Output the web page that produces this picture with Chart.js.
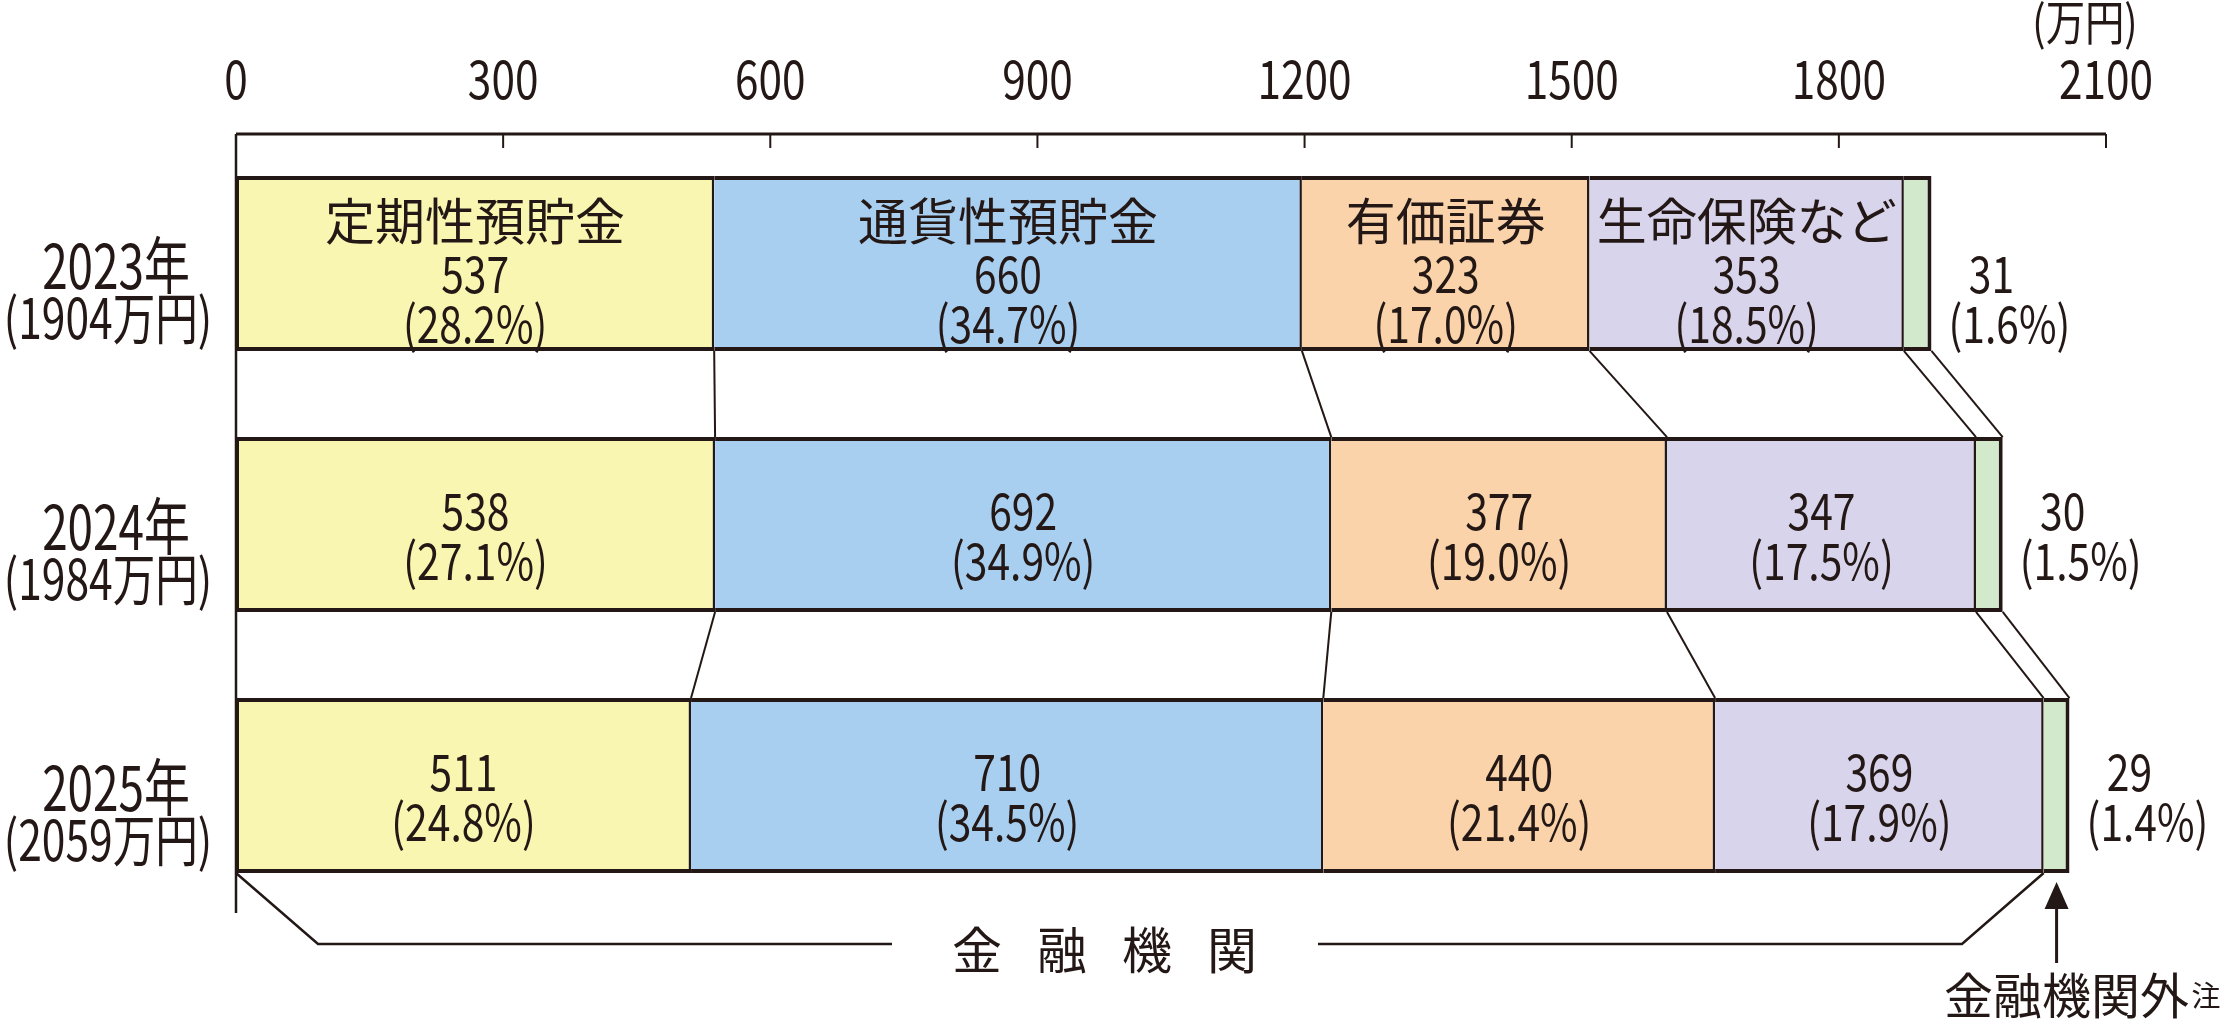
<!DOCTYPE html>
<html>
<head>
<meta charset="utf-8">
<script src="https://cdn.jsdelivr.net/npm/chart.js@4.4.1/dist/chart.umd.min.js"></script>
<style>
  body { margin: 0; background: #fff; }
  canvas { display: block; }
</style>
</head>
<body>
<canvas id="myChart" width="2229" height="1019"></canvas>
<script>
// data (万円)
var years = ['2023年', '2024年', '2025年'];
var totals = ['(1904万円)', '(1984万円)', '(2059万円)'];
var seriesNames = ['定期性預貯金', '通貨性預貯金', '有価証券', '生命保険など', '金融機関外'];
var teiki = [537, 538, 511];
var tsuka = [660, 692, 710];
var yuka = [323, 377, 440];
var seimei = [353, 347, 369];
var gai = [31, 30, 29];
var teikiPct = ['28.2', '27.1', '24.8'];
var tsukaPct = ['34.7', '34.9', '34.5'];
var yukaPct = ['17.0', '19.0', '21.4'];
var seimeiPct = ['18.5', '17.5', '17.9'];
var gaiPct = ['1.6', '1.5', '1.4'];
var xTicks = [0, 300, 600, 900, 1200, 1500, 1800, 2100];

var series = [teiki, tsuka, yuka, seimei, gai];
var pcts = [teikiPct, tsukaPct, yukaPct, seimeiPct, gaiPct];
var colors = ['#f8f6b0', '#a8cff0', '#fad3aa', '#d8d4eb', '#d2e9cc'];
var ink = '#231815';
var FONT = '"Noto Sans CJK JP", "Noto Sans", sans-serif';

function txt(ctx, s, x, y, size, sx, align) {
    ctx.save();
    ctx.font = size + 'px ' + FONT;
    ctx.fillStyle = ink;
    ctx.textAlign = align || 'center';
    ctx.textBaseline = 'middle';
    ctx.translate(x, y);
    ctx.scale(sx, 1);
    ctx.fillText(s, 0, 0);
    ctx.restore();
}

function line(ctx, pts, w) {
    ctx.beginPath();
    ctx.moveTo(pts[0][0], pts[0][1]);
    for (var i = 1; i < pts.length; i++) ctx.lineTo(pts[i][0], pts[i][1]);
    ctx.lineWidth = w;
    ctx.strokeStyle = ink;
    ctx.stroke();
}

var decor = {
    id: 'decor',
    afterDraw: function (chart) {
        var ctx = chart.ctx;
        var xs = chart.scales.x;
        var area = chart.chartArea;
        var axisY = 134;
        var metas = series.map(function (s, k) { return chart.getDatasetMeta(k); });

        // top axis with inward ticks
        line(ctx, [[area.left, axisY], [area.right, axisY]], 3);
        xTicks.forEach(function (v) {
            var px = xs.getPixelForValue(v);
            if (v > 0) line(ctx, [[px, axisY], [px, axisY + 14]], 2);
            txt(ctx, String(v), px, 79, 53, 0.8);
        });
        txt(ctx, '(万円)', 2085, 22, 48, 0.82);

        var bar0 = metas[0].data;
        var barBottom = function (i) { return bar0[i].y + bar0[i].height / 2; };
        var barTop = function (i) { return bar0[i].y - bar0[i].height / 2; };

        // left vertical line
        line(ctx, [[area.left, axisY], [area.left, 913]], 2.5);

        // connectors between years
        for (var i = 0; i < years.length - 1; i++) {
            for (var k = 0; k < series.length; k++) {
                var a = metas[k].data[i].x, b = metas[k].data[i + 1].x;
                line(ctx, [[a, barBottom(i)], [b, barTop(i + 1)]], 2);
            }
        }

        // labels inside bars
        years.forEach(function (yr, i) {
            var cy = bar0[i].y;
            var vOff = i === 0 ? 10 : -14;
            var pOff = i === 0 ? 60 : 36;
            txt(ctx, yr, 116, cy + 2, 62, 0.74);
            txt(ctx, totals[i], 108, cy + 54, 56, 0.76);
            for (var k = 0; k < series.length; k++) {
                var el = metas[k].data[i];
                var cx = (el.x + el.base) / 2;
                if (k === series.length - 1) {
                    txt(ctx, String(series[k][i]), el.x + 60, cy + vOff, 51, 0.8);
                    txt(ctx, '(' + pcts[k][i] + '%)', el.x + 78, cy + pOff, 51, 0.8);
                    continue;
                }
                if (i === 0) txt(ctx, seriesNames[k], cx, cy - 43, 50, 1);
                txt(ctx, String(series[k][i]), cx, cy + vOff, 51, 0.8);
                txt(ctx, '(' + pcts[k][i] + '%)', cx, cy + pOff, 51, 0.8);
            }
        });

        // bracket for 金融機関
        var last = years.length - 1;
        var yb = barBottom(last);
        var rightEnd = metas[3].data[last].x;
        line(ctx, [[area.left, yb], [318, 944], [892, 944]], 2.5);
        line(ctx, [[1318, 944], [1962, 944], [rightEnd, yb]], 2.5);
        var chars = ['金', '融', '機', '関'];
        chars.forEach(function (c, j) { txt(ctx, c, 977 + j * 85, 950, 50, 1); });

        // arrow to 金融機関外
        var g = metas[4].data[last];
        var ax = (g.x + g.base) / 2;
        line(ctx, [[ax, yb + 30], [ax, 963]], 3);
        ctx.beginPath();
        ctx.moveTo(ax, yb + 9);
        ctx.lineTo(ax - 12, yb + 36);
        ctx.lineTo(ax + 12, yb + 36);
        ctx.closePath();
        ctx.fillStyle = ink;
        ctx.fill();
        txt(ctx, '金融機関外', ax + 10, 995, 49, 1);
        txt(ctx, '注', 2206, 996, 29, 1);
    }
};

var ctx = document.getElementById('myChart').getContext('2d');
var chart = new Chart(ctx, {
    type: 'bar',
    data: {
        labels: years,
        datasets: seriesNames.map(function (n, k) {
            return {
                label: n,
                data: series[k],
                backgroundColor: colors[k],
                borderColor: ink,
                borderSkipped: false,
                borderWidth: { left: k === 0 ? 3 : 0, right: k === series.length - 1 ? 4 : 2.5, top: 4, bottom: 4 },
                barPercentage: 0.67,
                categoryPercentage: 1
            };
        })
    },
    options: {
        indexAxis: 'y',
        responsive: false,
        animation: false,
        devicePixelRatio: 1,
        layout: { padding: { left: 236, right: 123, top: 133, bottom: 103 } },
        plugins: { legend: { display: false }, tooltip: { enabled: false } },
        scales: {
            x: { stacked: true, min: 0, max: 2100, display: false },
            y: { stacked: true, display: false }
        }
    },
    plugins: [decor]
});
</script>
</body>
</html>
